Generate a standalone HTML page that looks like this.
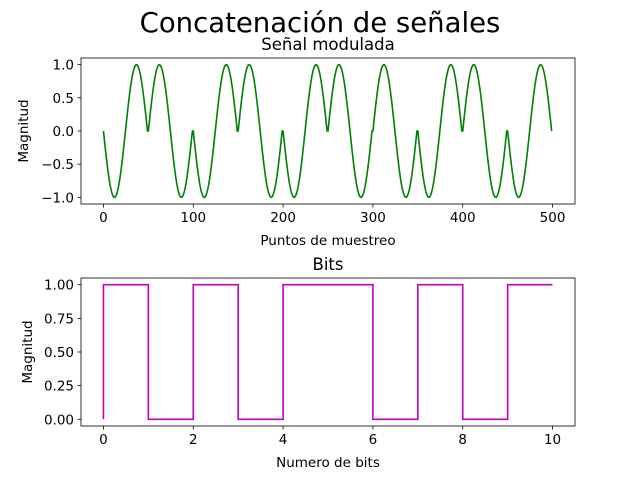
<!DOCTYPE html>
<html><head><meta charset="utf-8"><style>
body{margin:0;background:#fff}
svg{display:block;font-family:"DejaVu Sans","Liberation Sans",sans-serif}
</style></head><body>
<svg id="c" width="640" height="480" viewBox="0 0 640 480">
<text x="320" y="32" font-size="27.5" text-anchor="middle">Concatenación de señales</text>
</svg>
<script>
const bits=[0,1,0,1,0,1,1,0,1,0,1];
const segSigns=[-1,1,-1,1,-1,1,1,-1,1,-1];
const segLen=50;
const topXTicks=[0,100,200,300,400,500];
const topYTicks=[-1.0,-0.5,0.0,0.5,1.0];
const botXTicks=[0,2,4,6,8,10];
const botYTicks=[0.00,0.25,0.50,0.75,1.00];
const NS="http://www.w3.org/2000/svg";
const svg=document.getElementById('c');
function el(t,a,p){const e=document.createElementNS(NS,t);for(const k in a)e.setAttribute(k,a[k]);(p||svg).appendChild(e);return e;}
function axes(o){
  const sx=v=>o.x0+(v-o.xmin)/(o.xmax-o.xmin)*(o.x1-o.x0);
  const sy=v=>o.y1-(v-o.ymin)/(o.ymax-o.ymin)*(o.y1-o.y0);
  const g=el('g',{});
  
  
  o.xt.forEach(v=>{const x=sx(v);el('line',{x1:x,x2:x,y1:o.y1,y2:o.y1+3.5,stroke:'#000','stroke-width':0.8},g);
    const t=el('text',{x:x,y:o.y1+18,'font-size':13.5,'text-anchor':'middle'},g);t.textContent=o.xf(v);
    });
  o.yt.forEach(v=>{const y=sy(v);el('line',{x1:o.x0-3.5,x2:o.x0,y1:y,y2:y,stroke:'#000','stroke-width':0.8},g);
    const t=el('text',{x:o.x0-7,y:y+5,'font-size':13.5,'text-anchor':'end'},g);t.textContent=o.yf(v);
    });
  const tt=el('text',{x:(o.x0+o.x1)/2,y:o.y0-8,'font-size':16.5,'text-anchor':'middle'},g);tt.textContent=o.title;
  
  const xl=el('text',{x:(o.x0+o.x1)/2,y:o.y1+41,'font-size':13.5,'text-anchor':'middle'},g);xl.textContent=o.xl;
  
  const yx=o.ylx,yy=(o.y0+o.y1)/2;
  const yl=el('text',{x:yx,y:yy,'font-size':13.5,'text-anchor':'middle',transform:`rotate(-90 ${yx} ${yy})`},g);yl.textContent='Magnitud';
  
  return {sx,sy,g,frame:()=>el('rect',{x:o.x0,y:o.y0,width:o.x1-o.x0,height:o.y1-o.y0,fill:'none',stroke:'#000','stroke-width':0.8},g)};
}
const A=axes({name:'modulated-signal-axes',x0:81,x1:575,y0:58,y1:204,xmin:-25,xmax:525,ymin:-1.1,ymax:1.1,
  xt:topXTicks,yt:topYTicks,xf:v=>v,yf:v=>v.toFixed(1).replace('-','−'),title:'Señal modulada',xl:'Puntos de muestreo',ylx:28});
let pts=[];
segSigns.forEach((s,k)=>{for(let n=0;n<segLen;n++){const x=k*segLen+n;pts.push(A.sx(x).toFixed(2)+','+A.sy(s*Math.sin(2*Math.PI*n/(segLen-1))).toFixed(2));}});
const l1=el('polyline',{points:pts.join(' '),fill:'none',stroke:'#008000','stroke-width':1.6});


A.frame();
const B=axes({name:'bits-axes',x0:81,x1:575,y0:278,y1:426,xmin:-0.5,xmax:10.5,ymin:-0.05,ymax:1.05,
  xt:botXTicks,yt:botYTicks,xf:v=>v,yf:v=>v.toFixed(2),title:'Bits',xl:'Numero de bits',ylx:32});
let p2=[B.sx(0)+','+B.sy(bits[0])];
for(let i=1;i<bits.length;i++){p2.push(B.sx(i-1)+','+B.sy(bits[i]));p2.push(B.sx(i)+','+B.sy(bits[i]));}
const l2=el('polyline',{points:p2.join(' '),fill:'none',stroke:'#bf00bf','stroke-width':1.6});


B.frame();
</script>
</body></html>
